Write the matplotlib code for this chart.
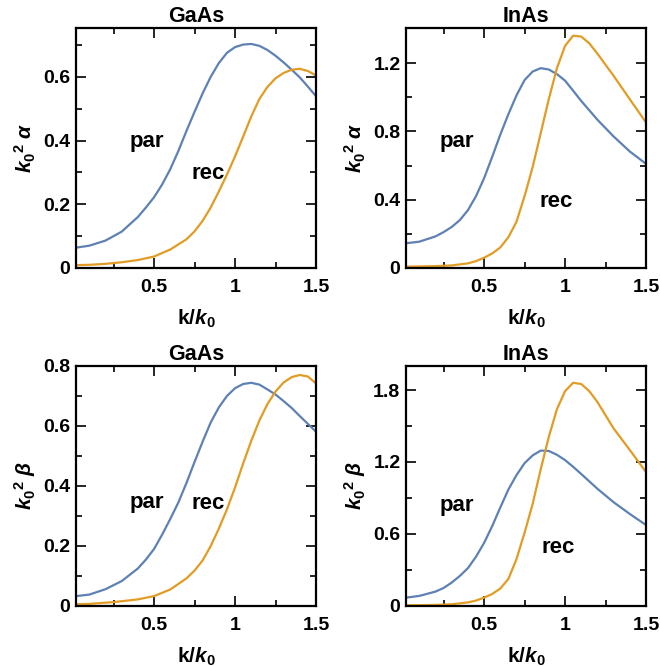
import matplotlib
matplotlib.use("Agg")
import matplotlib.pyplot as plt
from matplotlib.ticker import FixedLocator

# === FONT / STYLE ===
plt.rcParams['font.family'] = ['Liberation Sans', 'DejaVu Sans']
plt.rcParams['font.weight'] = 'bold'
plt.rcParams['mathtext.fontset'] = 'custom'
plt.rcParams['mathtext.rm'] = 'Liberation Sans:bold'
plt.rcParams['mathtext.it'] = 'Liberation Sans:italic:bold'
plt.rcParams['mathtext.bf'] = 'Liberation Sans:bold'

BLUE = '#5E81B5'
ORANGE = '#E19C24'

# === DATA ===
# GaAs alpha
gaas_a_par_x = [0.02, 0.1, 0.2, 0.3, 0.4, 0.45, 0.5, 0.55, 0.6, 0.65, 0.7, 0.75, 0.8, 0.85, 0.9,
                0.95, 1.0, 1.05, 1.1, 1.15, 1.2, 1.25, 1.3, 1.35, 1.4, 1.45, 1.5]
gaas_a_par_y = [0.064, 0.070, 0.086, 0.114, 0.160, 0.190, 0.222, 0.262, 0.310, 0.367, 0.430, 0.490,
                0.548, 0.600, 0.643, 0.675, 0.693, 0.701, 0.703, 0.697, 0.684, 0.666, 0.645, 0.622,
                0.598, 0.569, 0.539]
gaas_a_rec_x = [0.02, 0.1, 0.2, 0.3, 0.4, 0.5, 0.6, 0.7, 0.75, 0.8, 0.85, 0.9, 0.95, 1.0, 1.05,
                1.1, 1.15, 1.2, 1.25, 1.3, 1.35, 1.4, 1.45, 1.5]
gaas_a_rec_y = [0.009, 0.010, 0.013, 0.018, 0.025, 0.036, 0.058, 0.090, 0.115, 0.148, 0.190, 0.240,
                0.293, 0.350, 0.412, 0.475, 0.530, 0.568, 0.595, 0.612, 0.622, 0.625, 0.618, 0.604]

# InAs alpha
inas_a_par_x = [0.02, 0.1, 0.2, 0.25, 0.3, 0.35, 0.4, 0.45, 0.5, 0.55, 0.6, 0.65, 0.7, 0.75, 0.8,
                0.85, 0.9, 0.95, 1.0, 1.05, 1.1, 1.2, 1.3, 1.4, 1.5]
inas_a_par_y = [0.145, 0.154, 0.185, 0.210, 0.240, 0.280, 0.338, 0.420, 0.525, 0.650, 0.780, 0.900,
                1.010, 1.100, 1.150, 1.170, 1.162, 1.135, 1.097, 1.038, 0.978, 0.868, 0.770, 0.682,
                0.610]
inas_a_rec_x = [0.02, 0.1, 0.2, 0.3, 0.4, 0.45, 0.5, 0.55, 0.6, 0.65, 0.7, 0.75, 0.8, 0.85, 0.9,
                0.95, 1.0, 1.05, 1.1, 1.15, 1.2, 1.3, 1.4, 1.5]
inas_a_rec_y = [0.008, 0.009, 0.011, 0.015, 0.027, 0.040, 0.060, 0.085, 0.120, 0.180, 0.270, 0.420,
                0.590, 0.790, 0.990, 1.170, 1.300, 1.360, 1.355, 1.315, 1.255, 1.125, 0.988, 0.852]

# GaAs beta
gaas_b_par_x = [0.02, 0.1, 0.2, 0.3, 0.4, 0.45, 0.5, 0.55, 0.6, 0.65, 0.7, 0.75, 0.8, 0.85, 0.9,
                0.95, 1.0, 1.05, 1.1, 1.15, 1.2, 1.25, 1.3, 1.35, 1.4, 1.45, 1.5]
gaas_b_par_y = [0.033, 0.038, 0.056, 0.083, 0.125, 0.155, 0.190, 0.238, 0.290, 0.345, 0.410, 0.480,
                0.548, 0.612, 0.662, 0.700, 0.726, 0.740, 0.744, 0.738, 0.722, 0.705, 0.683, 0.660,
                0.633, 0.607, 0.581]
gaas_b_rec_x = [0.02, 0.1, 0.25, 0.4, 0.5, 0.6, 0.7, 0.75, 0.8, 0.85, 0.9, 0.95, 1.0, 1.05, 1.1,
                1.15, 1.2, 1.25, 1.3, 1.35, 1.4, 1.45, 1.5]
gaas_b_rec_y = [0.006, 0.007, 0.013, 0.022, 0.033, 0.055, 0.092, 0.118, 0.152, 0.200, 0.258, 0.322,
                0.395, 0.475, 0.550, 0.618, 0.673, 0.715, 0.745, 0.763, 0.770, 0.765, 0.742]

# InAs beta
inas_b_par_x = [0.02, 0.1, 0.2, 0.25, 0.3, 0.35, 0.4, 0.45, 0.5, 0.55, 0.6, 0.65, 0.7, 0.75, 0.8,
                0.85, 0.9, 0.95, 1.0, 1.05, 1.1, 1.2, 1.3, 1.4, 1.5]
inas_b_par_y = [0.070, 0.084, 0.120, 0.150, 0.195, 0.250, 0.315, 0.410, 0.525, 0.665, 0.820, 0.970,
                1.090, 1.190, 1.255, 1.295, 1.292, 1.260, 1.216, 1.160, 1.100, 0.977, 0.865, 0.767,
                0.675]
inas_b_rec_x = [0.02, 0.1, 0.2, 0.3, 0.4, 0.45, 0.5, 0.55, 0.6, 0.65, 0.7, 0.75, 0.8, 0.85, 0.9,
                0.95, 1.0, 1.05, 1.1, 1.15, 1.2, 1.3, 1.4, 1.5]
inas_b_rec_y = [0.006, 0.007, 0.009, 0.014, 0.030, 0.045, 0.070, 0.100, 0.145, 0.225, 0.390, 0.610,
                0.850, 1.140, 1.410, 1.640, 1.790, 1.860, 1.850, 1.790, 1.700, 1.480, 1.300, 1.116]

titles = ["GaAs", "InAs", "GaAs", "InAs"]
ylabels = [r"${k_0}^2\;\alpha$", r"${k_0}^2\;\alpha$", r"${k_0}^2\;\beta$", r"${k_0}^2\;\beta$"]
ymax = [0.753, 1.405, 0.8, 2.0]
ymajor = [[0, 0.2, 0.4, 0.6], [0, 0.4, 0.8, 1.2], [0, 0.2, 0.4, 0.6, 0.8], [0, 0.6, 1.2, 1.8]]
yminor = [[0.1, 0.3, 0.5, 0.7], [0.2, 0.6, 1.0], [0.1, 0.3, 0.5, 0.7], [0.3, 0.9, 1.5]]
par_pos = [(0.453, 0.396), (0.329, 0.741), (0.453, 0.344), (0.329, 0.837)]
rec_pos = [(0.834, 0.297), (0.947, 0.389), (0.834, 0.342), (0.958, 0.488)]
curves = [
    (gaas_a_par_x, gaas_a_par_y, gaas_a_rec_x, gaas_a_rec_y),
    (inas_a_par_x, inas_a_par_y, inas_a_rec_x, inas_a_rec_y),
    (gaas_b_par_x, gaas_b_par_y, gaas_b_rec_x, gaas_b_rec_y),
    (inas_b_par_x, inas_b_par_y, inas_b_rec_x, inas_b_rec_y),
]

# axes boxes in pixels (left, top) for a 660x666 figure, 240x240 each
W, H = 660, 666
boxes = [(76, 28), (406, 28), (76, 366), (406, 366)]

fig = plt.figure(figsize=(6.6, 6.66), dpi=100)
for i in range(4):
    l, t = boxes[i]
    ax = fig.add_axes([l / W, (H - t - 240) / H, 240 / W, 240 / H])
    px, py, rx, ry = curves[i]
    ax.plot(px, py, color=BLUE, lw=1.6)
    ax.plot(rx, ry, color=ORANGE, lw=1.6)
    ax.set_xlim(0.018, 1.5)
    ax.set_ylim(0, ymax[i])

    ax.xaxis.set_major_locator(FixedLocator([0.5, 1.0, 1.5]))
    ax.xaxis.set_minor_locator(FixedLocator([0.25, 0.75, 1.25]))
    ax.set_xticklabels(["0.5", "1", "1.5"])
    ax.yaxis.set_major_locator(FixedLocator(ymajor[i]))
    ax.yaxis.set_minor_locator(FixedLocator(yminor[i]))
    ax.set_yticklabels(["0" if v == 0 else f"{v:g}" for v in ymajor[i]])

    ax.tick_params(which='both', direction='in', top=True, right=True, width=1.2,
                   labelsize=14)
    ax.tick_params(which='major', length=7)
    ax.tick_params(which='minor', length=4)
    ax.tick_params(axis='x', which='major', pad=8)
    ax.tick_params(axis='y', which='major', pad=4)
    for s in ax.spines.values():
        s.set_linewidth(1.6)

    ax.set_title(titles[i], fontsize=15.5, fontweight='bold', pad=4)
    ax.set_ylabel(ylabels[i], fontsize=15, labelpad=4)
    ax.set_xlabel(r"$\mathrm{k}/k_0$", fontsize=15, labelpad=8)

    ax.text(par_pos[i][0], par_pos[i][1], "par", fontsize=16, fontweight='bold',
            ha='center', va='center')
    ax.text(rec_pos[i][0], rec_pos[i][1], "rec", fontsize=16, fontweight='bold',
            ha='center', va='center')

fig.savefig("out.png", dpi=100)
